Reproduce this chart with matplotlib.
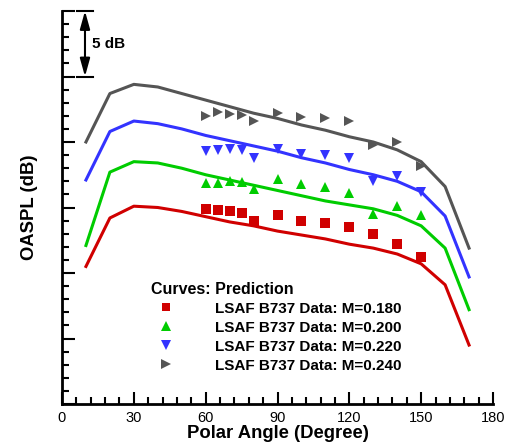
import matplotlib
matplotlib.use('Agg')
import matplotlib.pyplot as plt
from matplotlib.ticker import MultipleLocator, NullFormatter

plt.rcParams['font.family'] = ['Liberation Sans', 'DejaVu Sans']

# prediction curves (dB, relative)
angle = [10, 20, 30, 40, 50, 60, 70, 80, 90, 100, 110, 120, 130, 140, 150, 160, 170]
pred_180 = [10.5, 14.2, 15.1, 15.0, 14.7, 14.3, 13.9, 13.6, 13.2, 12.9, 12.6, 12.2, 11.9, 11.45, 10.7, 9.1, 4.5]
pred_200 = [12.1, 17.7, 18.5, 18.4, 18.0, 17.5, 17.1, 16.7, 16.3, 15.9, 15.5, 15.2, 14.9, 14.4, 13.6, 11.9, 7.2]
pred_220 = [17.1, 20.8, 21.6, 21.4, 21.0, 20.5, 20.1, 19.7, 19.3, 18.8, 18.4, 17.9, 17.5, 17.0, 16.2, 14.35, 9.7]
pred_240 = [20.0, 23.7, 24.4, 24.2, 23.7, 23.2, 22.7, 22.2, 21.8, 21.3, 20.9, 20.4, 20.0, 19.4, 18.5, 16.6, 11.9]

# LSAF B737 measured data
data_angle = [60, 65, 70, 75, 80, 90, 100, 110, 120, 130, 140, 150]
data_180 = [14.85, 14.8, 14.7, 14.55, 14.0, 14.4, 13.95, 13.85, 13.5, 12.95, 12.25, 11.2]
data_200 = [16.9, 16.9, 17.05, 16.95, 16.4, 17.2, 16.8, 16.6, 16.1, 14.5, 15.1, 14.4]
data_220 = [19.3, 19.4, 19.45, 19.4, 18.8, 19.5, 19.1, 19.0, 18.75, 17.0, 17.4, 16.2]
data_240 = [22.0, 22.3, 22.1, 22.05, 21.6, 22.2, 21.9, 21.8, 21.6, 19.8, 20.0, 18.2]

labels = ['LSAF B737 Data: M=0.180', 'LSAF B737 Data: M=0.200',
          'LSAF B737 Data: M=0.220', 'LSAF B737 Data: M=0.240']
colors = ['#d00000', '#00cc00', '#3333ff', '#555555']
markers = ['s', '^', 'v', '>']
msizes = [6.5, 7.5, 7.5, 7.5]

fig = plt.figure(figsize=(5.05, 4.44), dpi=100)
ax = fig.add_axes([62/505, 40/444, 431/505, 393/444])

preds = [pred_180, pred_200, pred_220, pred_240]
datas = [data_180, data_200, data_220, data_240]
for i in range(4):
    ax.plot(angle, preds[i], color=colors[i], lw=2.2, zorder=2)
for i in range(4):
    ax.plot(data_angle, datas[i], linestyle='none', marker=markers[i], color=colors[i],
            markersize=msizes[i], markeredgewidth=0, label=labels[i], zorder=3)

ax.set_xlim(0, 180)
ax.set_ylim(0, 30)
ax.xaxis.set_major_locator(MultipleLocator(30))
ax.xaxis.set_minor_locator(MultipleLocator(6))
ax.yaxis.set_major_locator(MultipleLocator(5))
ax.yaxis.set_minor_locator(MultipleLocator(1))
ax.yaxis.set_major_formatter(NullFormatter())
ax.tick_params(which='both', direction='in', width=1.5, labelsize=10.5)
ax.tick_params(which='major', length=9, pad=5)
ax.tick_params(which='minor', length=5)
for s in ['top', 'right']:
    ax.spines[s].set_visible(False)
for s in ['left', 'bottom']:
    ax.spines[s].set_linewidth(2)

ax.set_xlabel('Polar Angle (Degree)', fontsize=13.3, fontweight='bold', labelpad=0)
ax.set_ylabel('OASPL (dB)', fontsize=13.3, fontweight='bold', labelpad=12)

# 5 dB scale bar
ax.annotate('', xy=(9.6, 30), xytext=(9.6, 25),
            arrowprops=dict(arrowstyle='<|-|>,head_length=0.9,head_width=0.25',
                            color='black', lw=1.5, shrinkA=0, shrinkB=0,
                            mutation_scale=12))
ax.plot([6.3, 12.9], [30, 30], color='black', lw=1.5, clip_on=False)
ax.plot([6.3, 12.9], [25, 25], color='black', lw=1.5, clip_on=False)
ax.text(12.5, 27.5, '5 dB', fontsize=11, fontweight='bold', va='center', ha='left')

leg = ax.legend(loc='upper left', bbox_to_anchor=(0.189, 0.33), frameon=False,
                title='Curves: Prediction', alignment='left', borderpad=0,
                handletextpad=2.2, labelspacing=0.32, markerscale=0.95,
                prop={'weight': 'bold', 'size': 11},
                title_fontproperties={'weight': 'bold', 'size': 11.5})

fig.savefig('out.png', dpi=100)
